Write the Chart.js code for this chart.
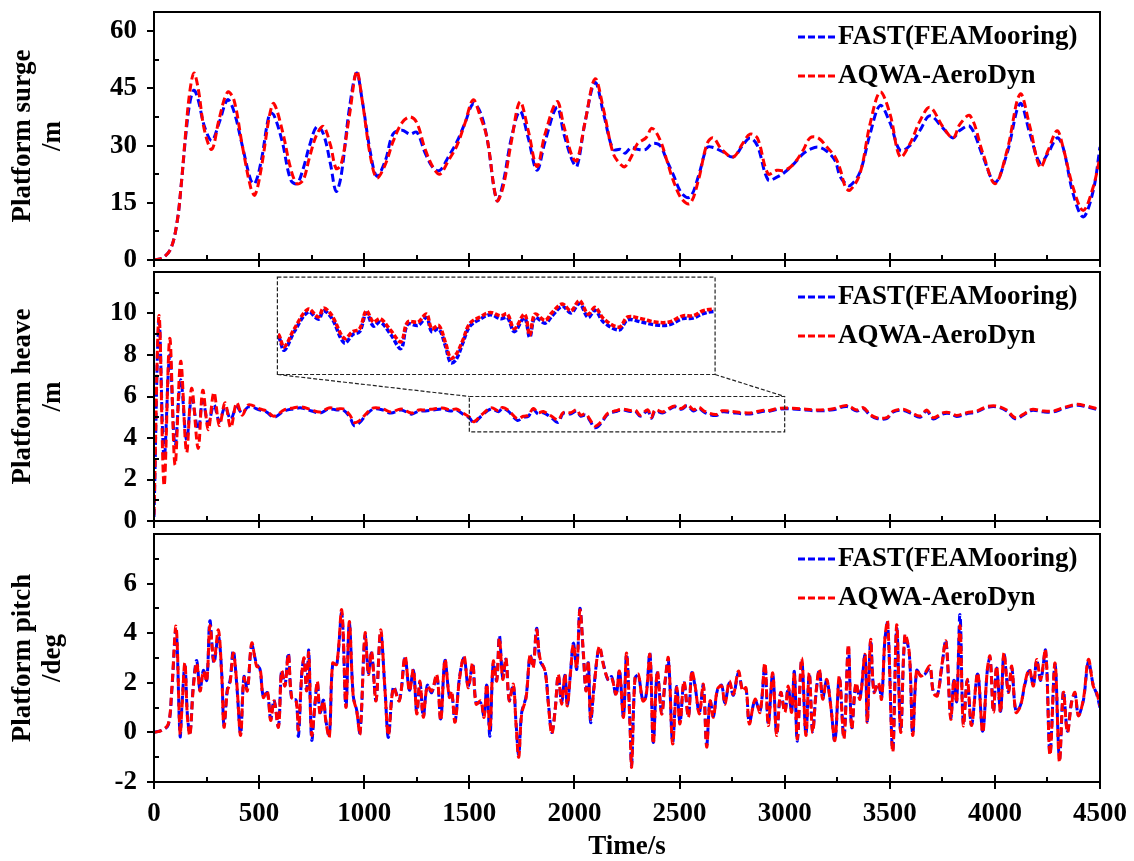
<!DOCTYPE html>
<html>
<head>
<meta charset="utf-8">
<script src="https://cdn.jsdelivr.net/npm/chart.js@4.4.1/dist/chart.umd.min.js"></script>
<style>
  html, body { margin: 0; padding: 0; background: #fff; overflow: hidden; }
  #wrap { position: relative; width: 1134px; height: 861px; }
  #wrap canvas { position: absolute; left: 0; }
</style>
</head>
<body>
<div id="wrap">
  <canvas id="surge" width="1134" height="272" style="top:0px"></canvas>
  <canvas id="heave" width="1134" height="273" style="top:260px"></canvas>
  <canvas id="pitch" width="1134" height="339" style="top:522px"></canvas>
  <canvas id="heaveZoom" width="10" height="10"></canvas>
</div>
<script>
// ---- data ----
const timeTicks = [0, 500, 1000, 1500, 2000, 2500, 3000, 3500, 4000, 4500];
const surgeTicks = [0, 15, 30, 45, 60];
const heaveTicks = [0, 2, 4, 6, 8, 10];
const pitchTicks = [-2, 0, 2, 4, 6];

const surgeTime = [
  0, 40, 80, 110, 130, 150, 170, 190, 210, 240,
  275, 310, 350, 380, 420, 460, 480, 510, 550, 570,
  610, 650, 680, 710, 740, 775, 806, 840, 866, 890,
  930, 964, 990, 1030, 1060, 1100, 1137, 1180, 1218, 1250,
  1290, 1330, 1360, 1400, 1441, 1480, 1518, 1550, 1584, 1631,
  1660, 1700, 1741, 1780, 1822, 1860, 1917, 1950, 1990, 2012,
  2050, 2098, 2140, 2184, 2220, 2241, 2270, 2300, 2340, 2369,
  2407, 2440, 2469, 2510, 2550, 2590, 2631, 2660, 2700, 2755,
  2800, 2835, 2870, 2921, 2963, 3000, 3040, 3087, 3121, 3159,
  3201, 3240, 3263, 3290, 3311, 3358, 3406, 3454, 3501, 3549,
  3596, 3644, 3691, 3754, 3801, 3834, 3882, 3944, 4001, 4058,
  4120, 4167, 4215, 4253, 4296, 4324, 4372, 4420, 4467, 4500
];
const surgeFast = [
  0, 0.5, 3, 10, 20, 32, 41, 44.5, 42, 35,
  31.3, 36, 42, 39, 30, 21, 20, 26, 38.5, 38,
  31, 21, 20, 24, 30, 35, 33, 25, 18, 22,
  40, 49, 42, 28, 22, 26, 33, 34, 33, 33.5,
  28, 24, 23.5, 27, 31, 36, 41, 39, 32, 15.6,
  20, 32, 39, 32, 23.5, 31, 40, 33, 26, 24.5,
  36, 46.5, 38, 29, 29, 28, 29.5, 29, 29, 30.5,
  30, 26, 22.5, 17.5, 16.5, 22, 29.5, 29.5, 28.5, 27,
  30, 32, 30, 21, 21.7, 23, 25, 27.8, 29, 29.6,
  28.5, 26, 22, 20, 19.5, 23, 33, 40.5, 36, 28.7,
  30, 34, 37.8, 34.5, 32, 34, 35, 27, 20.3, 28,
  41, 33, 25.5, 28, 32, 29.6, 17.4, 11.3, 18, 29.6
];
const surgeAqwa = [
  0, 0.5, 3, 10, 20, 33, 44, 49, 45, 34,
  29, 37, 44, 42, 30, 19, 17, 24, 38, 41,
  34, 24, 20, 21, 27, 33, 35, 30, 24, 25,
  38, 49.5, 42, 27, 21.5, 25, 31, 36, 37.5, 36,
  29, 24, 22.5, 26, 30, 36, 42, 38, 32, 15.6,
  19, 31, 41.5, 34, 24.5, 33, 41.5, 35, 27, 26,
  36, 47.5, 39, 28, 25, 24.5, 27, 30.5, 32, 34.5,
  31.5, 26, 21, 16, 14.8, 21, 30.5, 32, 29, 27,
  30.5, 33, 32, 22.6, 23.5, 23.5, 25, 28.7, 32, 32,
  29.6, 27, 24, 19, 18.3, 22.6, 35.6, 44, 38.3, 27,
  30.5, 36.5, 40, 34.8, 32, 35.6, 37.8, 27.8, 20, 28.7,
  43.5, 34.8, 24.3, 28.7, 33.9, 29.6, 19, 13, 19, 27
];

const heaveTime = [
  0, 24, 48, 75, 100, 127, 155, 179, 210, 232,
  258, 285, 311, 338, 365, 393, 420, 449, 504, 536,
  570, 619, 662, 701, 750, 790, 832, 870, 900, 932,
  952, 979, 1012, 1045, 1090, 1127, 1176, 1225, 1260, 1290,
  1330, 1372, 1410, 1438, 1470, 1503, 1521, 1556, 1604, 1639,
  1657, 1686, 1728, 1757, 1781, 1804, 1828, 1852, 1888, 1923,
  1946, 1982, 2011, 2029, 2053, 2077, 2094, 2112, 2136, 2159,
  2195, 2230, 2266, 2289, 2313, 2348, 2366, 2384, 2419, 2443,
  2478, 2508, 2537, 2567, 2591, 2620, 2674, 2703, 2750, 2797,
  2845, 2892, 2928, 2963, 3006, 3073, 3152, 3231, 3295, 3343,
  3374, 3406, 3438, 3485, 3517, 3564, 3604, 3644, 3676, 3707,
  3755, 3787, 3818, 3866, 3914, 3961, 4009, 4056, 4096, 4135,
  4175, 4230, 4278, 4326, 4389, 4437, 4500
];
const heaveFast = [
  0.2, 9.6, 3.0, 8.0, 3.6, 6.8, 3.9, 5.9, 4.4, 5.8,
  4.7, 5.6, 4.8, 5.5, 4.9, 5.5, 5.2, 5.5, 5.35, 5.25,
  5.0, 5.3, 5.4, 5.45, 5.3, 5.2, 5.4, 5.35, 5.35, 5.0,
  4.6, 4.75, 5.15, 5.4, 5.35, 5.2, 5.35, 5.15, 5.3, 5.3,
  5.35, 5.4, 5.3, 5.35, 5.15, 4.95, 4.72, 5.05, 5.4, 5.27,
  5.42, 5.28, 4.85, 5.0, 5.05, 5.38, 5.15, 5.22, 5.0, 4.75,
  5.18, 5.16, 5.3, 5.05, 5.1, 4.78, 4.5, 4.55, 4.85, 5.14,
  5.27, 5.35, 5.28, 5.3, 5.05, 5.3, 4.95, 5.3, 5.2, 5.33,
  5.5, 5.38, 5.55, 5.3, 5.43, 5.22, 5.08, 5.26, 5.22, 5.17,
  5.17, 5.28, 5.29, 5.37, 5.41, 5.37, 5.31, 5.36, 5.52, 5.3,
  5.42, 5.1, 4.94, 4.93, 5.26, 5.33, 5.17, 5.0, 5.3, 4.92,
  5.17, 5.18, 5.04, 5.17, 5.26, 5.47, 5.5, 5.3, 4.93, 5.1,
  5.33, 5.26, 5.26, 5.42, 5.58, 5.5, 5.33
];
const heaveAqwa = [
  0.3, 9.9, 1.7, 8.8, 2.7, 7.7, 3.3, 6.4, 3.5, 6.3,
  4.4, 6.2, 4.6, 5.7, 4.5, 5.7, 5.1, 5.6, 5.4, 5.3,
  5.05, 5.35, 5.45, 5.5, 5.35, 5.25, 5.45, 5.4, 5.4, 5.1,
  4.75, 4.85, 5.2, 5.45, 5.4, 5.25, 5.4, 5.2, 5.35, 5.35,
  5.4, 5.45, 5.35, 5.4, 5.2, 4.99, 4.78, 5.1, 5.45, 5.31,
  5.47, 5.33, 4.93, 5.05, 5.1, 5.42, 5.22, 5.28, 5.07, 4.87,
  5.22, 5.22, 5.36, 5.1, 5.16, 4.84, 4.58, 4.64, 4.9, 5.19,
  5.31, 5.39, 5.33, 5.36, 5.1, 5.36, 4.99, 5.36, 5.25, 5.39,
  5.54, 5.42, 5.6, 5.36, 5.48, 5.28, 5.13, 5.31, 5.28, 5.22,
  5.22, 5.33, 5.33, 5.42, 5.45, 5.41, 5.35, 5.41, 5.57, 5.35,
  5.46, 5.14, 4.98, 4.98, 5.3, 5.38, 5.22, 5.06, 5.35, 4.98,
  5.22, 5.22, 5.09, 5.22, 5.3, 5.51, 5.54, 5.35, 4.98, 5.14,
  5.38, 5.3, 5.3, 5.46, 5.62, 5.54, 5.38
];

const pitchTime = [
  0, 36, 68, 84, 105, 124, 133, 147, 159, 171,
  187, 203, 219, 235, 251, 266, 285, 306, 322, 333,
  349, 362, 377, 393, 412, 428, 444, 465, 488, 504,
  520, 539, 555, 571, 592, 607, 623, 639, 655, 676,
  687, 703, 714, 726, 736, 750, 766, 777, 790, 806,
  818, 834, 850, 869, 893, 913, 929, 948, 964, 980,
  1004, 1020, 1035, 1056, 1078, 1099, 1115, 1139, 1167, 1194,
  1215, 1234, 1250, 1265, 1281, 1300, 1321, 1345, 1364, 1384,
  1405, 1416, 1432, 1453, 1475, 1495, 1516, 1532, 1554, 1570,
  1583, 1598, 1614, 1630, 1643, 1659, 1674, 1690, 1709, 1722,
  1735, 1749, 1770, 1789, 1804, 1820, 1836, 1860, 1876, 1892,
  1908, 1923, 1939, 1955, 1966, 1982, 1995, 2011, 2026, 2042,
  2055, 2066, 2077, 2093, 2118, 2141, 2161, 2177, 2198, 2214,
  2233, 2248, 2264, 2272, 2288, 2304, 2325, 2340, 2359, 2375,
  2394, 2415, 2431, 2447, 2467, 2486, 2502, 2521, 2542, 2558,
  2573, 2594, 2613, 2629, 2645, 2661, 2680, 2700, 2716, 2737,
  2756, 2780, 2800, 2816, 2832, 2859, 2883, 2906, 2922, 2943,
  2962, 2981, 3001, 3017, 3033, 3046, 3060, 3081, 3101, 3117,
  3133, 3149, 3165, 3181, 3200, 3219, 3239, 3260, 3282, 3303,
  3319, 3339, 3358, 3382, 3393, 3409, 3425, 3446, 3461, 3477,
  3490, 3514, 3533, 3552, 3572, 3593, 3609, 3628, 3647, 3667,
  3691, 3707, 3726, 3747, 3767, 3790, 3805, 3818, 3834, 3850,
  3869, 3889, 3918, 3942, 3964, 3977, 3993, 4008, 4027, 4043,
  4064, 4080, 4100, 4122, 4143, 4164, 4183, 4199, 4218, 4241,
  4262, 4286, 4307, 4326, 4345, 4365, 4381, 4397, 4421, 4445,
  4468, 4484, 4500
];
const pitchFast = [
  0, 0.08, 0.3, 1.6, 4.1, -0.15, 1.1, 2.7, 0.7, -0.05,
  1.9, 2.9, 1.7, 2.5, 2.1, 4.5, 2.8, 3.9, 2.4, 0.3,
  1.75, 2.1, 3.3, 2.0, -0.05, 2.25, 1.75, 3.5, 2.75, 2.55,
  1.45, 1.6, 0.55, 1.3, 0.25, 2.5, 1.9, 3.2, 1.35, 1.3,
  -0.15, 2.4, 2.95, 1.7, 3.3, -0.3, 1.2, 2.0, 0.8, 1.3,
  0.45, -0.1, 2.75, 2.7, 4.8, 1.05, 4.4, 1.45, 0.9, 0.0,
  3.9, 2.4, 3.2, 1.3, 4.0, 1.7, -0.2, 1.85, 1.3, 3.0,
  1.7, 2.5, 0.8, 2.0, 0.65, 1.9, 1.6, 2.3, 0.55, 2.9,
  1.45, 1.6, 0.45, 2.2, 3.0, 1.85, 2.75, 1.2, 1.2, 0.65,
  1.9, -0.15, 2.8, 2.1, 3.9, 2.2, 2.95, 1.3, 1.9, 0.4,
  -0.9, 0.8, 1.45, 3.1, 2.65, 4.2, 2.9, 2.5, 1.2, 0.0,
  0.9, 2.3, 1.2, 2.3, 1.1, 2.5, 3.6, 2.55, 5.0, 3.2,
  1.7, 2.8, 0.4, 1.85, 3.4, 2.65, 2.1, 2.25, 1.5, 2.5,
  0.65, 3.15, 0.4, -1.3, 2.15, 2.3, 1.3, 1.45, 3.2, -0.4,
  2.4, 0.8, 2.0, 2.9, -0.4, 1.85, 0.4, 2.0, 0.65, 2.4,
  1.9, 0.8, 1.9, -0.5, 1.3, 0.65, 1.7, 1.9, 1.2, 2.0,
  1.5, 2.4, 1.7, 1.75, 0.4, 1.3, 0.85, 2.7, 0.35, 2.35,
  -0.05, 1.6, 0.85, 1.8, 0.85, 2.45, -0.35, 2.9, -0.05, 2.35,
  0.05, 1.55, 2.5, 1.4, 2.1, 1.1, -0.35, 2.2, -0.2, 3.4,
  0.2, 1.95, 1.4, 3.1, 0.45, 3.7, 1.65, 1.95, 1.4, 3.75,
  4.4, -0.7, 4.2, 0.05, 3.85, 3.15, -0.05, 2.5, 2.3, 2.35,
  2.6, 1.65, 1.5, 2.6, 3.7, 0.6, 2.1, 1.25, 4.75, 0.35,
  2.1, 0.3, 2.35, 0.05, 2.5, 3.0, 0.85, 2.6, 0.85, 3.15,
  1.65, 2.6, 0.85, 1.1, 1.95, 2.5, 1.9, 2.9, 2.1, 3.3,
  -0.85, 2.75, -1.05, 1.65, 0.05, 1.25, 1.55, 0.7, 1.3, 2.85,
  1.9, 1.55, 1.0
];
const pitchAqwa = [
  0, 0.08, 0.34, 1.67, 4.27, -0.06, 1.0, 2.8, 0.6, -0.12,
  1.8, 2.8, 1.67, 2.47, 2.07, 4.3, 2.87, 4.13, 2.34, 0.21,
  1.67, 2.0, 3.2, 2.07, -0.12, 2.2, 1.67, 3.6, 2.67, 2.6,
  1.41, 1.67, 0.48, 1.27, 0.21, 2.47, 1.87, 3.14, 1.41, 1.27,
  0.1, 2.34, 3.0, 1.67, 3.2, -0.1, 1.14, 2.07, 0.74, 1.27,
  0.41, -0.19, 2.8, 2.74, 4.93, 1.01, 4.47, 1.41, 0.87, -0.06,
  4.0, 2.34, 3.27, 1.27, 4.13, 1.67, -0.12, 1.8, 1.27, 3.07,
  1.67, 2.54, 0.74, 2.07, 0.61, 1.87, 1.67, 2.34, 0.48, 2.94,
  1.41, 1.67, 0.41, 2.14, 3.07, 1.8, 2.8, 1.14, 1.27, 0.61,
  1.94, 0.1, 2.87, 2.07, 3.8, 2.14, 3.0, 1.27, 1.94, 0.34,
  -1.0, 0.74, 1.41, 3.14, 2.6, 4.13, 3.0, 2.47, 1.14, -0.06,
  0.87, 2.34, 1.14, 2.34, 1.07, 2.47, 3.54, 2.6, 4.93, 3.27,
  1.67, 2.87, 0.55, 1.8, 3.47, 2.6, 2.14, 2.2, 1.54, 2.47,
  0.61, 3.2, 0.34, -1.39, 2.2, 2.34, 1.27, 1.41, 3.14, -0.46,
  2.47, 0.74, 2.07, 3.0, -0.46, 1.8, 0.34, 2.07, 0.61, 2.47,
  1.94, 0.74, 1.94, -0.59, 1.27, 0.61, 1.74, 1.87, 1.14, 2.07,
  1.54, 2.47, 1.67, 1.8, 0.34, 1.34, 0.81, 2.8, 0.28, 2.4,
  -0.12, 1.61, 0.81, 1.87, 0.81, 2.4, -0.26, 3.0, -0.12, 2.4,
  0.0, 1.61, 2.54, 1.34, 2.14, 1.07, -0.32, 2.27, -0.26, 3.54,
  0.14, 2.0, 1.34, 3.14, 0.41, 3.74, 1.61, 2.0, 1.34, 3.8,
  4.47, -0.79, 4.34, 0.0, 3.94, 3.2, -0.12, 2.54, 2.27, 2.4,
  2.67, 1.61, 1.47, 2.67, 3.67, 0.54, 2.14, 1.21, 4.3, 0.28,
  2.14, 0.28, 2.4, 0.0, 2.54, 3.07, 0.81, 2.67, 0.81, 3.2,
  1.61, 2.67, 0.81, 1.07, 2.0, 2.54, 1.87, 2.94, 2.14, 3.34,
  -0.92, 2.8, -1.19, 1.61, 0.0, 1.21, 1.61, 0.67, 1.34, 2.94,
  1.87, 1.61, 1.07
];

// zoomed window of the heave record and where its enlargement sits (axis units)
const heaveWindow = { t0: 1500, t1: 3000, v0: 4.3, v1: 6.0 };
const heaveInset = { t0: 587, t1: 2669, v0: 7.06, v1: 11.75 };

// ---- styling ----
const FONT = '"Liberation Serif", "Times New Roman", serif';
const TEXT_SIZE = 27;
Chart.defaults.font.family = FONT;
Chart.defaults.font.weight = 'bold';
Chart.defaults.color = '#000';

const FAST_LABEL = 'FAST(FEAMooring)';
const AQWA_LABEL = 'AQWA-AeroDyn';

function series(label, time, values, color, order, width, dash) {
  return {
    label,
    data: time.map((t, i) => ({ x: t, y: values[i] })),
    borderColor: color,
    backgroundColor: color,
    borderWidth: width,
    borderDash: dash,
    pointRadius: 0,
    fill: false,
    tension: 0.35,
    order
  };
}

// box frame, outward major / inward minor ticks on y, crossing majors on x
const axisFrame = {
  id: 'axisFrame',
  afterDatasetsDraw(chart, args, opts) {
    const { ctx, chartArea: a, scales: { x, y } } = chart;
    ctx.save();
    ctx.strokeStyle = '#000';
    ctx.lineWidth = 2;
    ctx.setLineDash([]);
    ctx.strokeRect(a.left, a.top, a.right - a.left, a.bottom - a.top);
    ctx.beginPath();
    timeTicks.forEach((t, i) => {
      const px = Math.round(x.getPixelForValue(t));
      ctx.moveTo(px, a.bottom - 7);
      ctx.lineTo(px, a.bottom + 7);
      if (i < timeTicks.length - 1) {
        const mx = Math.round(x.getPixelForValue((t + timeTicks[i + 1]) / 2));
        ctx.moveTo(mx, a.bottom - 5);
        ctx.lineTo(mx, a.bottom);
      }
    });
    y.ticks.forEach(tk => {
      const py = Math.round(y.getPixelForValue(tk.value));
      ctx.moveTo(a.left - 7, py);
      ctx.lineTo(a.left, py);
    });
    for (let v = y.ticks[0].value + opts.minor; v < y.max; v += opts.minor * 2) {
      const py = Math.round(y.getPixelForValue(v));
      ctx.moveTo(a.left, py);
      ctx.lineTo(a.left + 5, py);
    }
    ctx.stroke();
    ctx.restore();
  }
};

// legend placed in the upper right of the plot area
const boxLegend = {
  id: 'boxLegend',
  afterDatasetsDraw(chart, args, opts) {
    const { ctx, chartArea: a } = chart;
    ctx.save();
    ctx.font = 'bold ' + TEXT_SIZE + 'px ' + FONT;
    ctx.textBaseline = 'middle';
    ctx.textAlign = 'left';
    ctx.fillStyle = '#000';
    chart.data.datasets.forEach((ds, i) => {
      const yy = a.top + opts.top + i * opts.gap;
      const xx = a.right - opts.right;
      ctx.strokeStyle = ds.borderColor;
      ctx.lineWidth = 3;
      ctx.setLineDash([7, 3]);
      ctx.beginPath();
      ctx.moveTo(xx, yy);
      ctx.lineTo(xx + 37, yy);
      ctx.stroke();
      ctx.fillText(ds.label, xx + 40, yy);
    });
    ctx.restore();
  }
};

// dashed window on the heave record, the inset frame and the two leader lines
const zoomGuide = {
  id: 'zoomGuide',
  afterDatasetsDraw(chart) {
    const { ctx, scales: { x, y } } = chart;
    const wl = x.getPixelForValue(heaveWindow.t0), wr = x.getPixelForValue(heaveWindow.t1);
    const wt = y.getPixelForValue(heaveWindow.v1), wb = y.getPixelForValue(heaveWindow.v0);
    const il = x.getPixelForValue(heaveInset.t0), ir = x.getPixelForValue(heaveInset.t1);
    const it = y.getPixelForValue(heaveInset.v1), ib = y.getPixelForValue(heaveInset.v0);
    ctx.save();
    ctx.strokeStyle = '#222';
    ctx.lineWidth = 1.2;
    ctx.setLineDash([4, 2]);
    ctx.strokeRect(wl, wt, wr - wl, wb - wt);
    ctx.strokeRect(il, it, ir - il, ib - it);
    ctx.beginPath();
    ctx.moveTo(il, ib); ctx.lineTo(wl, wt);
    ctx.moveTo(ir, ib); ctx.lineTo(wr, wt);
    ctx.stroke();
    ctx.restore();
  }
};

function panel(id, yMin, yMax, yTicks, minor, yTitle, showX, datasets, extra) {
  return new Chart(document.getElementById(id), {
    type: 'line',
    data: { datasets },
    plugins: [axisFrame, boxLegend].concat(extra || []),
    options: {
      responsive: false,
      animation: false,
      devicePixelRatio: 1,
      events: [],
      layout: { padding: { top: 12, right: 34, bottom: showX ? 0 : 12, left: 0 } },
      plugins: {
        legend: { display: false },
        tooltip: { enabled: false },
        axisFrame: { minor },
        boxLegend: { top: 25, gap: 39, right: 302 }
      },
      scales: {
        x: {
          type: 'linear',
          min: 0,
          max: 4500,
          display: showX,
          grid: { display: false, drawTicks: false },
          border: { display: false },
          afterBuildTicks: s => { s.ticks = timeTicks.map(v => ({ value: v })); },
          afterFit: s => {
            s.height = showX ? 79 : 0;
            s.paddingLeft = 0;
            s.paddingRight = 0;
          },
          ticks: {
            padding: 16,
            autoSkip: false,
            maxRotation: 0,
            font: { size: TEXT_SIZE, weight: 'bold' },
            callback: v => String(v)
          },
          title: {
            display: showX,
            text: 'Time/s',
            font: { size: TEXT_SIZE, weight: 'bold', lineHeight: 1 },
            padding: 0
          }
        },
        y: {
          type: 'linear',
          min: yMin,
          max: yMax,
          grid: { display: false, drawTicks: false },
          border: { display: false },
          afterBuildTicks: s => { s.ticks = yTicks.map(v => ({ value: v })); },
          afterFit: s => {
            s.width = 154;
            s.paddingTop = 0;
            s.paddingBottom = 0;
          },
          ticks: {
            padding: 17,
            autoSkip: false,
            font: { size: TEXT_SIZE, weight: 'bold' },
            callback: v => String(v)
          },
          title: {
            display: true,
            text: yTitle,
            font: { size: TEXT_SIZE, weight: 'bold', lineHeight: 1.1 },
            padding: { top: 8, bottom: 0 }
          }
        }
      }
    }
  });
}

const BLUE = '#0000ff';
const RED = '#ff0000';

panel('surge', 0, 65, surgeTicks, 7.5, ['Platform surge', '/m'], false, [
  series(FAST_LABEL, surgeTime, surgeFast, BLUE, 1, 3, [8, 4]),
  series(AQWA_LABEL, surgeTime, surgeAqwa, RED, 0, 3, [8, 4])
]);

const heaveChart = panel('heave', 0, 12, heaveTicks, 1, ['Platform heave', '/m'], false, [
  series(FAST_LABEL, heaveTime, heaveFast, BLUE, 1, 3, [8, 4]),
  series(AQWA_LABEL, heaveTime, heaveAqwa, RED, 0, 3, [8, 4])
], [zoomGuide]);

panel('pitch', -2, 8, pitchTicks, 1, ['Platform pitch', '/deg'], true, [
  series(FAST_LABEL, pitchTime, pitchFast, BLUE, 1, 3, [8, 4]),
  series(AQWA_LABEL, pitchTime, pitchAqwa, RED, 0, 3, [8, 4])
]);

// enlarged view of the heave window, laid over the inset frame
const hx = heaveChart.scales.x, hy = heaveChart.scales.y;
const zl = Math.round(hx.getPixelForValue(heaveInset.t0)) + 1;
const zr = Math.round(hx.getPixelForValue(heaveInset.t1)) - 1;
const zt = Math.round(hy.getPixelForValue(heaveInset.v1)) + 1;
const zb = Math.round(hy.getPixelForValue(heaveInset.v0)) - 1;
const zoomCanvas = document.getElementById('heaveZoom');
zoomCanvas.width = zr - zl;
zoomCanvas.height = zb - zt;
zoomCanvas.style.left = zl + 'px';
zoomCanvas.style.top = (260 + zt) + 'px';

new Chart(zoomCanvas, {
  type: 'line',
  data: {
    datasets: [
      series(FAST_LABEL, heaveTime, heaveFast, BLUE, 1, 3.5, [5, 2]),
      series(AQWA_LABEL, heaveTime, heaveAqwa, RED, 0, 3.5, [5, 2])
    ]
  },
  options: {
    responsive: false,
    animation: false,
    devicePixelRatio: 1,
    events: [],
    layout: { padding: 0 },
    plugins: { legend: { display: false }, tooltip: { enabled: false } },
    scales: {
      x: { type: 'linear', min: heaveWindow.t0, max: heaveWindow.t1, display: false },
      y: { type: 'linear', min: heaveWindow.v0, max: heaveWindow.v1, display: false }
    }
  }
});
</script>
</body>
</html>
